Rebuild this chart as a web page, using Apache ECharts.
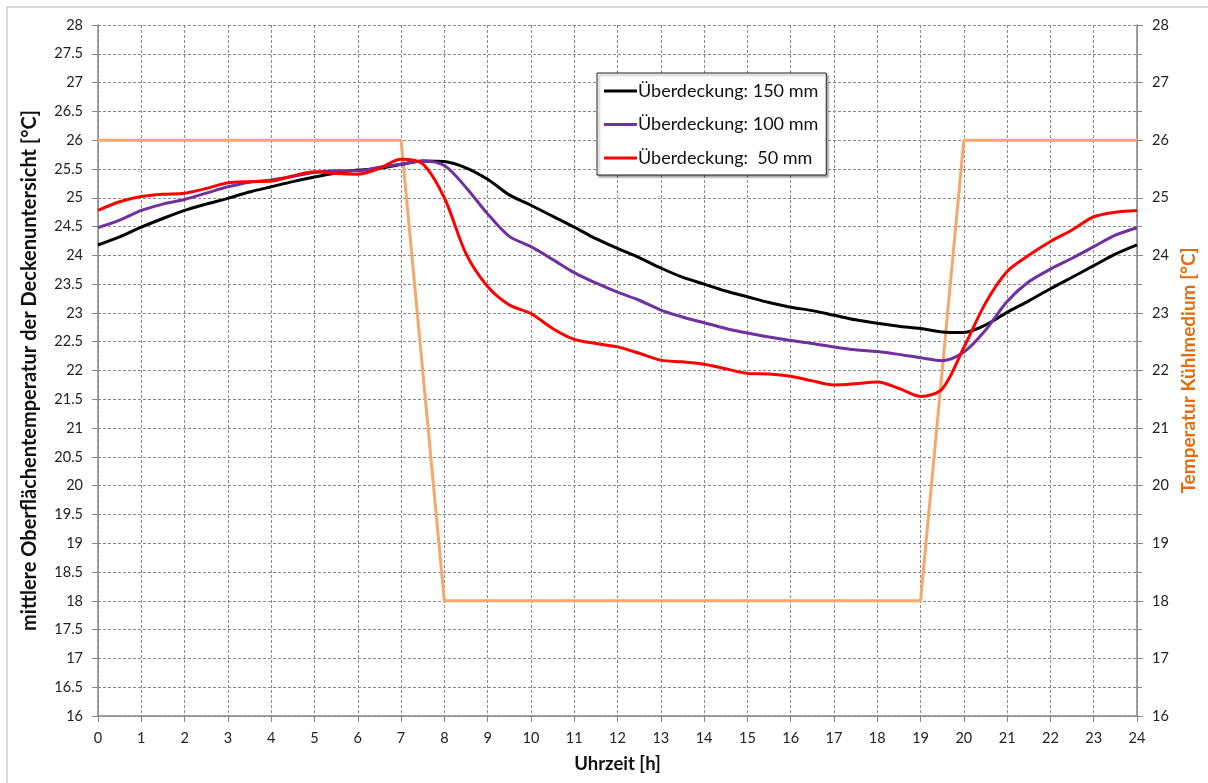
<!DOCTYPE html>
<html>
<head>
<meta charset="utf-8">
<script src="https://cdn.jsdelivr.net/npm/echarts@6/dist/echarts.min.js"></script>
<style>html,body{margin:0;padding:0;background:#fff}#c{width:1208px;height:783px}</style>
</head>
<body>
<div id="c"></div>
<script>
const hours = [0,0.5,1,1.5,2,2.5,3,3.5,4,4.5,5,5.5,6,6.5,7,7.5,8,8.5,9,9.5,10,10.5,11,11.5,12,12.5,13,13.5,14,14.5,15,15.5,16,16.5,17,17.5,18,18.5,19,19.5,20,20.5,21,21.5,22,22.5,23,23.5,24];
const s150 = [24.18,24.32,24.49,24.64,24.78,24.89,24.99,25.10,25.19,25.28,25.36,25.43,25.48,25.51,25.58,25.64,25.63,25.52,25.32,25.05,24.87,24.68,24.49,24.29,24.12,23.96,23.78,23.62,23.50,23.38,23.28,23.18,23.10,23.04,22.96,22.88,22.82,22.77,22.73,22.67,22.66,22.79,23.01,23.21,23.42,23.62,23.82,24.02,24.18];
const s100 = [24.48,24.61,24.78,24.89,24.97,25.08,25.19,25.27,25.31,25.37,25.44,25.47,25.47,25.53,25.58,25.64,25.56,25.18,24.72,24.33,24.15,23.93,23.70,23.52,23.36,23.22,23.05,22.93,22.83,22.73,22.65,22.58,22.52,22.47,22.41,22.36,22.33,22.28,22.22,22.17,22.32,22.70,23.20,23.54,23.76,23.95,24.15,24.35,24.48];
const s50 = [24.78,24.93,25.02,25.06,25.08,25.16,25.26,25.28,25.29,25.38,25.45,25.42,25.41,25.51,25.67,25.59,25.00,24.03,23.46,23.14,22.99,22.73,22.54,22.47,22.41,22.30,22.18,22.15,22.11,22.03,21.95,21.94,21.90,21.82,21.75,21.77,21.80,21.69,21.55,21.68,22.40,23.17,23.72,24.00,24.24,24.44,24.67,24.75,24.78];
const coolHours = [0,7,8,19,20,24];
const coolTemp = [26,26,18,18,26,26];
const seriesNames = ['Überdeckung: 150 mm','Überdeckung: 100 mm','Überdeckung:  50 mm'];

const pair = (xs, ys) => xs.map((x, i) => [x, ys[i]]);
const FONT = 'Lato';
const chart = echarts.init(document.getElementById('c'), null, {renderer: 'canvas'});
const gridLine = {show: true, lineStyle: {color: '#8a8a8a', type: [3, 2], width: 1}};
const axisLine = {show: true, lineStyle: {color: '#868686', width: 1.5}};
const labelStyle = {fontFamily: FONT, fontSize: 14.5, color: '#222'};
chart.setOption({
  animation: false,
  backgroundColor: '#fff',
  textStyle: {fontFamily: FONT},
  graphic: [{type: 'rect', shape: {x: 7, y: 7, width: 1220, height: 800}, style: {fill: 'none', stroke: '#b4b4b4', lineWidth: 1}}],
  grid: {left: 98, right: 71, top: 25, bottom: 67},
  legend: {
    data: seriesNames, orient: 'vertical', left: 597, top: 73, width: 233, height: 101,
    padding: [9, 8, 8, 7], itemGap: 15.5, itemWidth: 33, itemHeight: 3, icon: 'rect',
    backgroundColor: '#fff', borderColor: '#222', borderWidth: 1,
    shadowColor: 'rgba(0,0,0,0.35)', shadowBlur: 2, shadowOffsetX: 2, shadowOffsetY: 2,
    textStyle: {fontFamily: FONT, fontSize: 18, color: '#111', padding: [0, 0, 0, -4]}
  },
  xAxis: {
    type: 'value', min: 0, max: 24, interval: 1,
    name: 'Uhrzeit [h]', nameLocation: 'middle', nameGap: 39,
    nameTextStyle: {fontFamily: FONT, fontWeight: 'bold', fontSize: 18.5, color: '#111'},
    axisLine: axisLine, axisTick: {show: true, length: 6, lineStyle: {color: '#868686'}},
    axisLabel: Object.assign({margin: 15}, labelStyle),
    splitLine: gridLine
  },
  yAxis: [{
    type: 'value', min: 16, max: 28, interval: 0.5, position: 'left',
    name: 'mittlere Oberflächentemperatur der Deckenuntersicht [°C]', nameLocation: 'middle', nameGap: 58,
    nameTextStyle: {fontFamily: FONT, fontWeight: 'bold', fontSize: 20, color: '#111'},
    axisLine: axisLine, axisTick: {show: true, length: 6, lineStyle: {color: '#868686'}},
    axisLabel: Object.assign({margin: 15}, labelStyle),
    splitLine: gridLine
  }, {
    type: 'value', min: 16, max: 28, interval: 1, position: 'right',
    name: 'Temperatur Kühlmedium [°C]', nameLocation: 'middle', nameGap: 40, nameRotate: 90,
    nameTextStyle: {fontFamily: FONT, fontWeight: 'bold', fontSize: 19, color: '#E46C0A'},
    axisLine: axisLine, axisTick: {show: true, length: 6, lineStyle: {color: '#868686'}},
    minorTick: {show: true, splitNumber: 2, length: 5, lineStyle: {color: '#868686'}},
    axisLabel: Object.assign({margin: 15}, labelStyle),
    splitLine: {show: false}
  }],
  series: [
    {name: 'Kühlmedium', type: 'line', yAxisIndex: 1, data: pair(coolHours, coolTemp), showSymbol: false,
     lineStyle: {color: '#F4A86C', width: 3}, itemStyle: {color: '#F4A86C'}, z: 1},
    {name: seriesNames[0], type: 'line', data: pair(hours, s150), smooth: 0.3, showSymbol: false,
     lineStyle: {color: '#000000', width: 3}, itemStyle: {color: '#000000'}, z: 3},
    {name: seriesNames[1], type: 'line', data: pair(hours, s100), smooth: 0.3, showSymbol: false,
     lineStyle: {color: '#7030A0', width: 3}, itemStyle: {color: '#7030A0'}, z: 4},
    {name: seriesNames[2], type: 'line', data: pair(hours, s50), smooth: 0.3, showSymbol: false,
     lineStyle: {color: '#FF0000', width: 3}, itemStyle: {color: '#FF0000'}, z: 5}
  ]
});
</script>
</body>
</html>
